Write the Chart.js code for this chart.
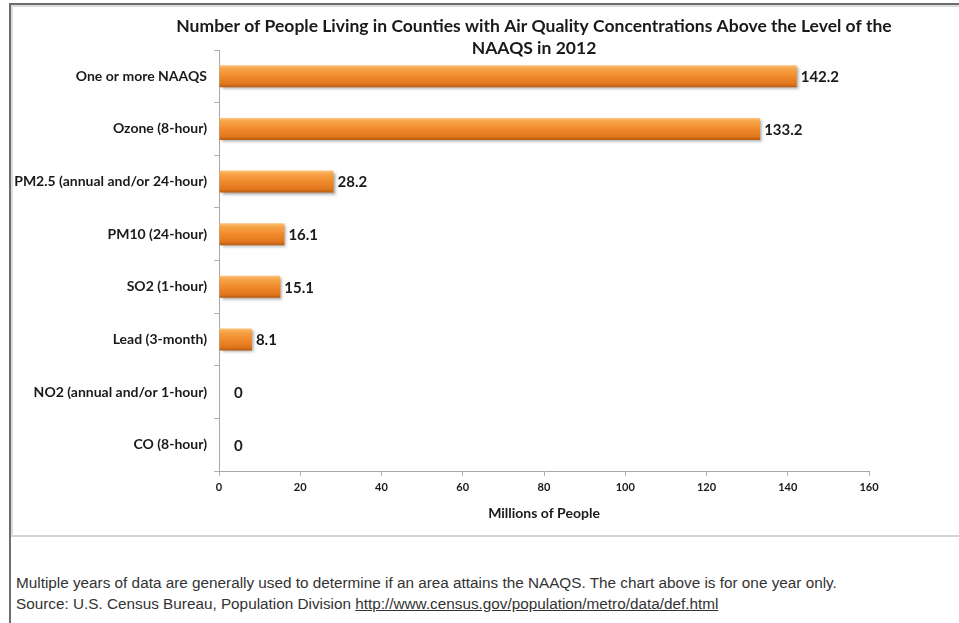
<!DOCTYPE html>
<html>
<head>
<meta charset="utf-8">
<script src="https://cdn.jsdelivr.net/npm/chart.js@4.4.1/dist/chart.umd.min.js"></script>
<style>
  html, body { margin: 0; padding: 0; background: #fff; overflow: hidden; }
  #frame {
    position: absolute; left: 9px; top: 3px; width: 960px; height: 630px;
    border-left: 2px solid #6d6d6d; border-top: 2px solid #6d6d6d;
  }
  #chartBox {
    position: absolute; left: 0px; top: 0px; width: 958px; height: 528px;
    border-left: 2px solid #dcdcdc; border-top: 2px solid #dcdcdc; border-bottom: 2px solid #d4d4d4;
  }
  #notes {
    position: absolute; left: 5px; top: 567px;
    font-family: "Liberation Sans", Arial, sans-serif; font-size: 15.3px; color: #333;
    line-height: 21px; white-space: nowrap;
  }
  #notes a { color: #333; text-decoration: underline; }
</style>
</head>
<body>
<div id="frame">
  <div id="chartBox"><canvas id="airChart" width="947" height="528"></canvas></div>
  <div id="notes">
    Multiple years of data are generally used to determine if an area attains the NAAQS. The chart above is for one year only.<br>
    Source: U.S. Census Bureau, Population Division <a href="#">http://www.census.gov/population/metro/data/def.html</a>
  </div>
</div>
<script>
// Categorias e valores (milhões de pessoas)
const categories = [
  "One or more NAAQS",
  "Ozone (8-hour)",
  "PM2.5 (annual and/or 24-hour)",
  "PM10 (24-hour)",
  "SO2 (1-hour)",
  "Lead (3-month)",
  "NO2 (annual and/or 1-hour)",
  "CO (8-hour)"
];
const people = [142.2, 133.2, 28.2, 16.1, 15.1, 8.1, 0, 0];
const xTicks = [0, 20, 40, 60, 80, 100, 120, 140, 160];

const titleLines = [
  "Number of People Living in Counties with Air Quality Concentrations Above the Level of the",
  "NAAQS in 2012"
];

// Título desenhado à mão para controlar a posição
const titlePlugin = {
  id: "titleLines",
  afterDraw(chart) {
    const c = chart.ctx;
    c.save();
    c.font = "bold 17.5px Lato";
    c.fillStyle = "#1a1a1a";
    c.textAlign = "center";
    c.textBaseline = "middle";
    c.fillText(titleLines[0], 521, 19);
    c.fillText(titleLines[1], 521, 41);
    c.restore();
  }
};

// Sombra atrás das barras
const shadowPlugin = {
  id: "barShadow",
  beforeDatasetsDraw(chart) {
    const c = chart.ctx;
    c.save();
    c.shadowColor = "rgba(0,0,0,0.35)";
    c.shadowBlur = 3;
    c.shadowOffsetX = 2;
    c.shadowOffsetY = 2;
  },
  afterDatasetsDraw(chart) {
    chart.ctx.restore();
  }
};

// Rótulos de valor à direita de cada barra
const valueLabels = {
  id: "valueLabels",
  afterDatasetsDraw(chart) {
    const c = chart.ctx;
    const meta = chart.getDatasetMeta(0);
    const x0 = chart.scales.x.getPixelForValue(0);
    c.save();
    c.font = "bold 15px Lato";
    c.fillStyle = "#1a1a1a";
    c.textAlign = "left";
    c.textBaseline = "middle";
    meta.data.forEach((bar, i) => {
      const x = Math.max(bar.x + 4, x0 + 15);
      c.fillText(String(people[i]), x, bar.y + 1);
    });
    c.restore();
  }
};

function barGradient(context) {
  const chart = context.chart;
  if (!chart.chartArea) return "#f08a2c";
  const y = chart.scales.y.getPixelForValue(context.dataIndex);
  const h = 11;
  const g = chart.ctx.createLinearGradient(0, y - h, 0, y + h);
  g.addColorStop(0, "#fcc47c");
  g.addColorStop(0.15, "#f7a449");
  g.addColorStop(0.5, "#f08a2c");
  g.addColorStop(0.85, "#e0761c");
  g.addColorStop(1, "#b65a12");
  return g;
}

const ctx = document.getElementById("airChart").getContext("2d");
new Chart(ctx, {
  type: "bar",
  data: {
    labels: categories,
    datasets: [{
      data: people,
      backgroundColor: barGradient,
      borderWidth: 0,
      categoryPercentage: 1,
      barPercentage: 0.42
    }]
  },
  options: {
    indexAxis: "y",
    responsive: false,
    animation: false,
    events: [],
    layout: { padding: { top: 43, right: 91, left: 0, bottom: 13 } },
    plugins: { legend: { display: false }, tooltip: { enabled: false }, title: { display: false } },
    scales: {
      x: {
        min: 0, max: 160,
        afterBuildTicks: (s) => { s.ticks = xTicks.map(v => ({ value: v })); },
        afterFit: (s) => { s.height = 51; },
        grid: { drawOnChartArea: false, drawTicks: true, tickLength: 5, color: "#b0b0b0" },
        border: { display: true, color: "#a8a8a8", width: 1 },
        ticks: { font: { family: "Lato", weight: "bold", size: 11 }, color: "#1a1a1a", padding: 5 },
        title: {
          display: true, text: "Millions of People",
          font: { family: "Lato", weight: "bold", size: 14 }, color: "#1a1a1a",
          padding: { top: 8, bottom: 0 }
        }
      },
      y: {
        afterFit: (s) => { s.width = 206; },
        grid: { drawOnChartArea: false, drawTicks: true, tickLength: 5, color: "#b0b0b0", offset: true },
        border: { display: true, color: "#a8a8a8", width: 1 },
        ticks: { font: { family: "Lato", weight: "bold", size: 14 }, color: "#1a1a1a", padding: 7 }
      }
    }
  },
  plugins: [titlePlugin, shadowPlugin, valueLabels]
});
</script>
</body>
</html>
